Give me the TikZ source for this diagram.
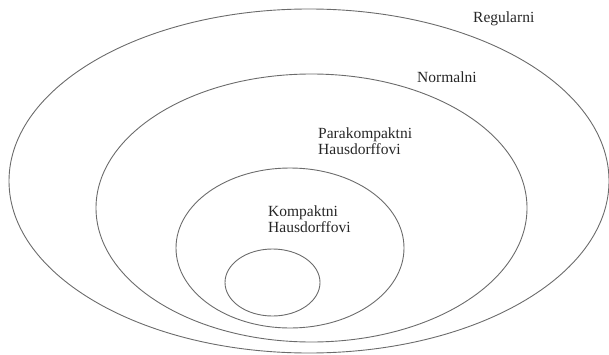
\documentclass[tikz,border=0pt]{standalone}
\usepackage{fontspec}
\setmainfont{Liberation Serif}
\usepackage{tikz}
\usepackage{color}
\definecolor{linegray}{rgb}{0.42,0.42,0.42}

\begin{document}
\begin{tikzpicture}[x=1pt, y=1pt,
	set line/.style={draw=linegray, line width=0.9pt},
	set name/.style={font=\fontsize{15.5}{15.5}\selectfont, inner sep=0pt, anchor=base west, align=left, text=black!85}]
	\useasboundingbox (0,0) rectangle (609,354);
	% centres of the sets
	\coordinate (reg) at (309,173);
	\coordinate (norm) at (311.5,146);
	\coordinate (para) at (290,106);
	\coordinate (komp) at (272.5,71.5);
	\draw[set line] (reg) ellipse [x radius=300, y radius=172];
	\draw[set line] (norm) ellipse [x radius=215.5, y radius=134];
	\draw[set line] (para) ellipse [x radius=114, y radius=80];
	\draw[set line] (komp) ellipse [x radius=47.5, y radius=33.5];
	\node[set name] (Reg) at (473,331) {Regularni};
	\node[set name] (Norm) at (417,271) {Normalni};
	\node[set name] (Para) at (318,200) {Parakompaktni\\Hausdorffovi};
	\node[set name] (Komp) at (268,122) {Kompaktni\\Hausdorffovi};
\end{tikzpicture}
\end{document}
